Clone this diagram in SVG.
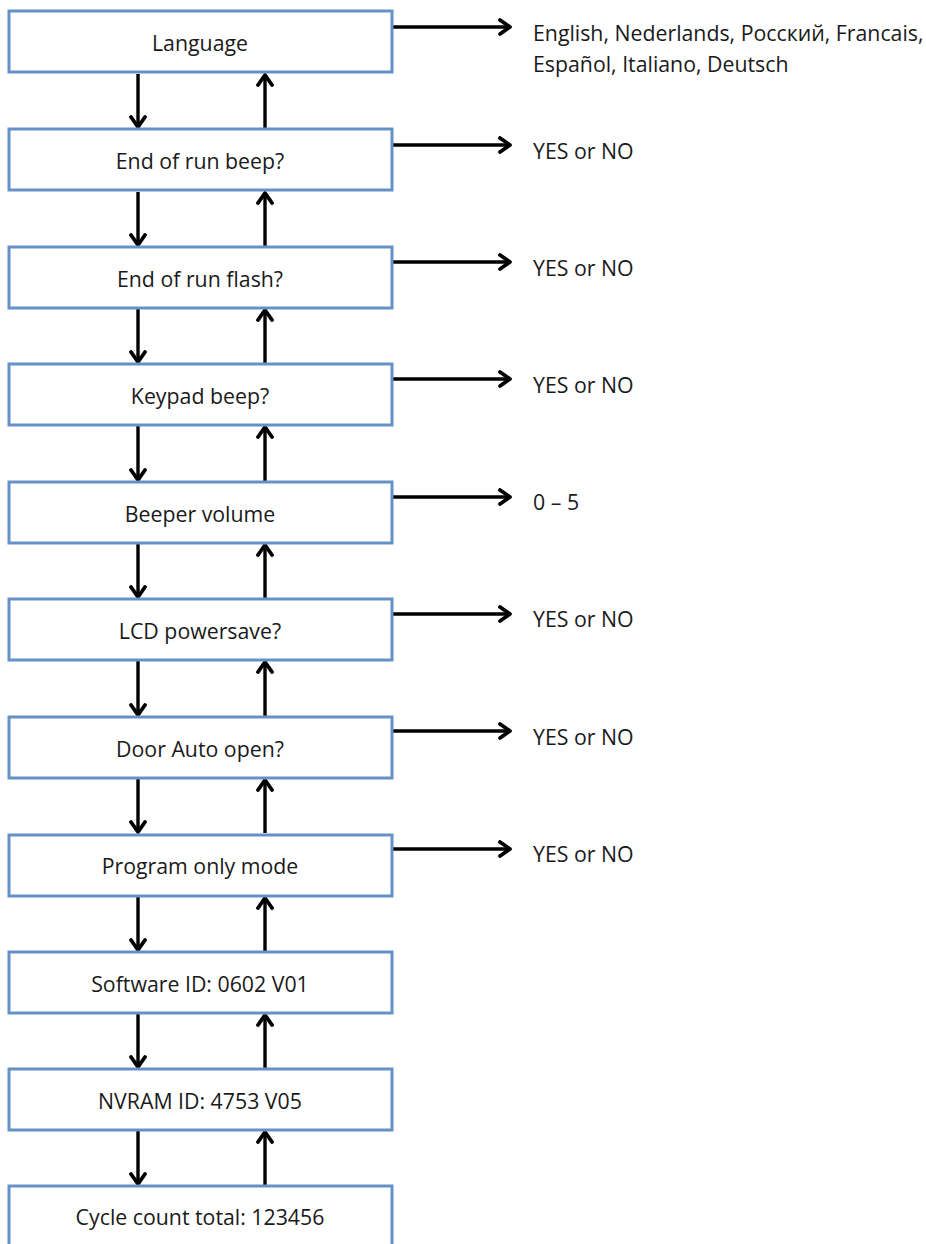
<svg xmlns="http://www.w3.org/2000/svg" width="926" height="1244" viewBox="0 0 926 1244">
<style>
.box{fill:#fff;stroke:#6492C8;stroke-width:3}
.t{font-family:"Open Sans","Liberation Sans",Arial,sans-serif;font-size:21.3px;fill:#1a1a1a;text-anchor:middle}
.l{font-family:"Open Sans","Liberation Sans",Arial,sans-serif;font-size:21.3px;fill:#1a1a1a}
.c{stroke:#000;stroke-width:3.4;fill:none;marker-end:url(#ah)}
</style>
<defs>
<marker id="ah" markerUnits="userSpaceOnUse" viewBox="0 0 14 18" refX="12" refY="9" markerWidth="14" markerHeight="18" orient="auto">
<path d="M2,2 L12,9 L2,16" fill="none" stroke="#000" stroke-width="3.8" stroke-linecap="round" stroke-linejoin="round"/>
</marker>
</defs>
<rect width="926" height="1244" fill="#fff"/>
<g id="connectors">
<path class="c" d="M392,27 H510"/>
<path class="c" d="M392,145 H510"/>
<path class="c" d="M392,262 H510"/>
<path class="c" d="M392,379 H510"/>
<path class="c" d="M392,497 H510"/>
<path class="c" d="M392,614 H510"/>
<path class="c" d="M392,731 H510"/>
<path class="c" d="M392,849 H510"/>
<path class="c" d="M138,74 V127"/><path class="c" d="M265,128 V75"/>
<path class="c" d="M138,192 V245"/><path class="c" d="M265,246 V193"/>
<path class="c" d="M138,309 V362"/><path class="c" d="M265,363 V310"/>
<path class="c" d="M138,426 V480"/><path class="c" d="M265,481 V427"/>
<path class="c" d="M138,544 V597"/><path class="c" d="M265,598 V545"/>
<path class="c" d="M138,661 V715"/><path class="c" d="M265,716 V662"/>
<path class="c" d="M138,779 V832"/><path class="c" d="M265,833 V780"/>
<path class="c" d="M138,897 V950"/><path class="c" d="M265,951 V898"/>
<path class="c" d="M138,1014 V1067"/><path class="c" d="M265,1068 V1015"/>
<path class="c" d="M138,1131 V1184"/><path class="c" d="M265,1185 V1132"/>
</g>
<g id="n1"><rect class="box" x="9" y="11" width="383" height="61"/><text class="t" x="200" y="51">Language</text></g>
<g id="n2"><rect class="box" x="9" y="129" width="383" height="61"/><text class="t" x="200" y="169">End of run beep?</text></g>
<g id="n3"><rect class="box" x="9" y="247" width="383" height="61"/><text class="t" x="200" y="287">End of run flash?</text></g>
<g id="n4"><rect class="box" x="9" y="364" width="383" height="61"/><text class="t" x="200" y="404">Keypad beep?</text></g>
<g id="n5"><rect class="box" x="9" y="482" width="383" height="61"/><text class="t" x="200" y="522">Beeper volume</text></g>
<g id="n6"><rect class="box" x="9" y="599" width="383" height="61"/><text class="t" x="200" y="639">LCD powersave?</text></g>
<g id="n7"><rect class="box" x="9" y="717" width="383" height="61"/><text class="t" x="200" y="757">Door Auto open?</text></g>
<g id="n8"><rect class="box" x="9" y="835" width="383" height="61"/><text class="t" x="200" y="874">Program only mode</text></g>
<g id="n9"><rect class="box" x="9" y="952" width="383" height="61"/><text class="t" x="200" y="992">Software ID: 0602 V01</text></g>
<g id="n10"><rect class="box" x="9" y="1069" width="383" height="61"/><text class="t" x="200" y="1109">NVRAM ID: 4753 V05</text></g>
<g id="n11"><rect class="box" x="9" y="1186" width="383" height="61"/><text class="t" x="200" y="1225">Cycle count total: 123456</text></g>
<g id="labels">
<text class="l" x="533" y="41">English, Nederlands, Росский, Francais,</text>
<text class="l" x="533" y="72">Español, Italiano, Deutsch</text>
<text class="l" x="533" y="159">YES or NO</text>
<text class="l" x="533" y="276">YES or NO</text>
<text class="l" x="533" y="393">YES or NO</text>
<text class="l" x="533" y="510">0 – 5</text>
<text class="l" x="533" y="627">YES or NO</text>
<text class="l" x="533" y="745">YES or NO</text>
<text class="l" x="533" y="862">YES or NO</text>
</g>
</svg>
